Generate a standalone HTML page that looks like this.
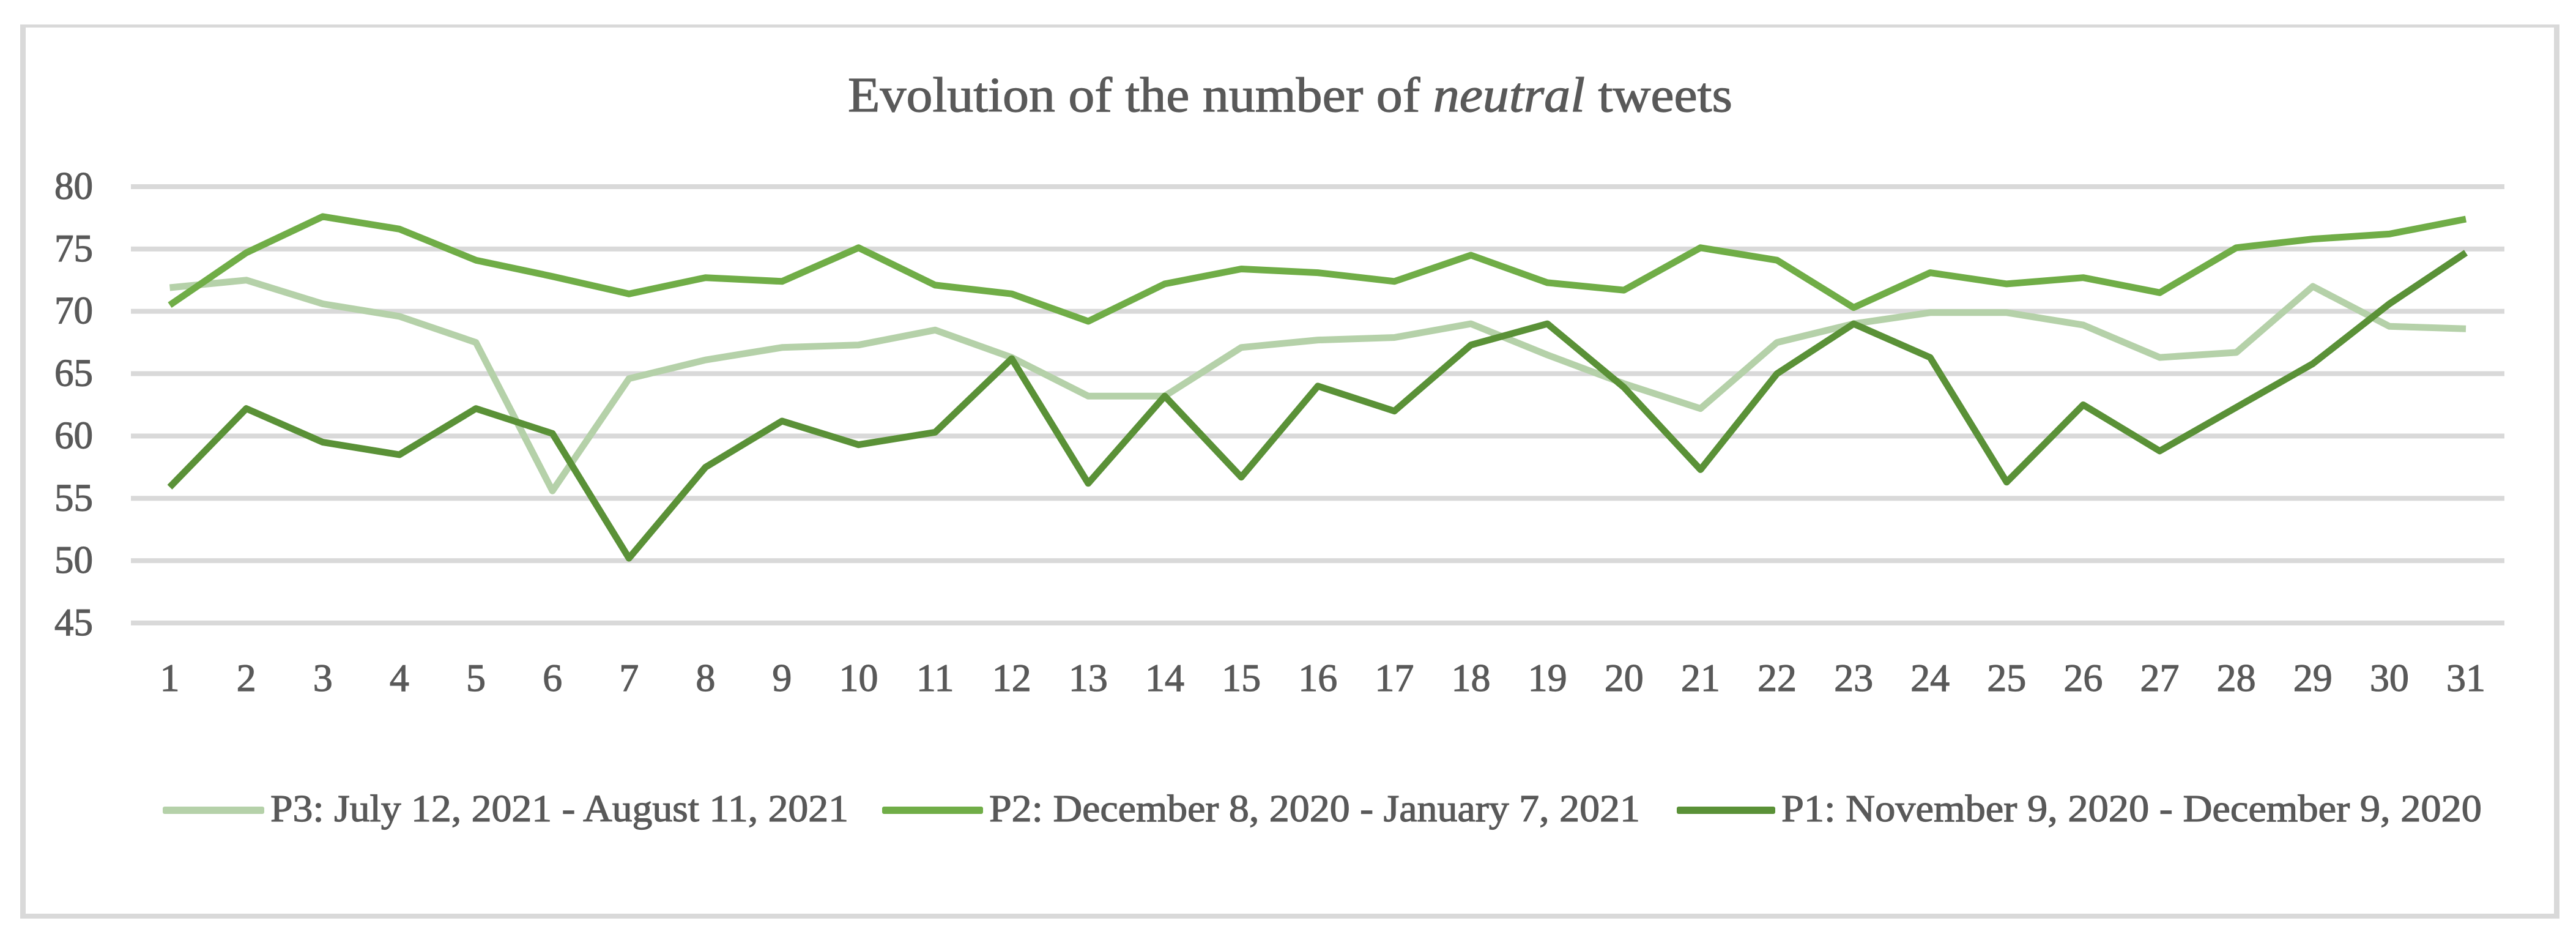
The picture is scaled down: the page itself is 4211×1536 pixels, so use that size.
<!DOCTYPE html>
<html lang="en">
<head>
<meta charset="utf-8">
<title>Evolution of the number of neutral tweets</title>
<style>
html,body{margin:0;padding:0;background:#fff;width:4211px;height:1536px;overflow:hidden}
svg{display:block}
text{font-family:"Liberation Serif",serif;fill:#595959;stroke:#595959;stroke-width:1.2px}
</style>
</head>
<body>
<svg id="chart" xmlns="http://www.w3.org/2000/svg" width="4211" height="1536" viewBox="0 0 4211 1536">
  <rect x="0" y="0" width="4211" height="1536" fill="#fff"/>
  <g fill="#d9d9d9">
    <rect x="33" y="40" width="4150" height="5"/>
    <rect x="33" y="1493" width="4150" height="8"/>
    <rect x="33" y="40" width="9" height="1461"/>
    <rect x="4175" y="40" width="9" height="1461"/>
  </g>
  <text x="1386" y="182" font-size="80" textLength="1446" lengthAdjust="spacingAndGlyphs">Evolution of the number of <tspan font-style="italic">neutral</tspan> tweets</text>
  <g id="grid"></g>
  <g id="yaxis"></g>
  <g id="xaxis"></g>
  <g id="series"></g>
  <g id="legend"></g>
</svg>
<script>
const categories = [1,2,3,4,5,6,7,8,9,10,11,12,13,14,15,16,17,18,19,20,21,22,23,24,25,26,27,28,29,30,31];
const yTicks = [80,75,70,65,60,55,50,45];
const p3Values = [71.9,72.5,70.6,69.6,67.5,55.6,64.6,66.1,67.1,67.3,68.5,66.3,63.2,63.2,67.1,67.7,67.9,69.0,66.5,64.2,62.2,67.5,69.0,69.9,69.9,68.9,66.3,66.7,72.0,68.8,68.6];
const p2Values = [70.5,74.7,77.6,76.6,74.1,72.8,71.4,72.7,72.4,75.1,72.1,71.4,69.2,72.2,73.4,73.1,72.4,74.5,72.3,71.7,75.1,74.1,70.3,73.1,72.2,72.7,71.5,75.1,75.8,76.2,77.4];
const p1Values = [55.9,62.2,59.5,58.5,62.2,60.2,50.2,57.5,61.2,59.3,60.3,66.2,56.2,63.2,56.7,64.0,62.0,67.3,69.0,63.9,57.3,65.0,69.0,66.3,56.3,62.5,58.8,62.3,65.8,70.6,74.7];
const p3Label = "P3: July 12, 2021 - August 11, 2021";
const p2Label = "P2: December 8, 2020 - January 7, 2021";
const p1Label = "P1: November 9, 2020 - December 9, 2020";

const NS = "http://www.w3.org/2000/svg";
function x(i){ return 277.5 + i * (4031 - 277.5) / (categories.length - 1); }
function y(v){ return 305 + (80 - v) * (1018 - 305) / 35; }
function make(tag, parent, attrs){
  const el = document.createElementNS(NS, tag);
  for (const k in attrs) el.setAttribute(k, attrs[k]);
  parent.appendChild(el);
  return el;
}

const grid = document.getElementById('grid');
const yaxis = document.getElementById('yaxis');
yTicks.forEach(function(t){
  const line = make('rect', grid, {x:214, y:y(t)-4, width:3880, height:8, fill:'#d9d9d9'});
  
  
  const label = make('text', yaxis, {x:152, y:y(t)+20, 'font-size':63, 'text-anchor':'end'});
  
  
  label.textContent = t;
});

const xaxis = document.getElementById('xaxis');
categories.forEach(function(c, i){
  const label = make('text', xaxis, {x:x(i), y:1129, 'font-size':64, 'text-anchor':'middle'});
  
  
  label.textContent = c;
});

const seriesGroup = document.getElementById('series');
function drawSeries(values, color, name){
  const pts = values.map(function(v, i){ return x(i).toFixed(1) + ',' + y(v).toFixed(1); }).join(' ');
  const line = make('polyline', seriesGroup, {points:pts, fill:'none', stroke:color, 'stroke-width':11, 'stroke-linejoin':'round', 'stroke-linecap':'butt'});
  
  
}
drawSeries(p3Values, '#b5d1a9', 'series-p3-line');
drawSeries(p2Values, '#70ad47', 'series-p2-line');
drawSeries(p1Values, '#5a9137', 'series-p1-line');

const legend = document.getElementById('legend');
function drawLegend(label, color, x0, x1, tx, tw, name){
  const swatch = make('rect', legend, {x:x0, y:1318, width:x1-x0, height:12, rx:3, fill:color});
  
  
  const text = make('text', legend, {x:tx, y:1342, 'font-size':62, textLength:tw, lengthAdjust:'spacingAndGlyphs'});
  
  
  text.textContent = label;
}
drawLegend(p3Label, '#b5d1a9', 266, 432, 442, 945, 'legend-p3');
drawLegend(p2Label, '#70ad47', 1442, 1607, 1617, 1064, 'legend-p2');
drawLegend(p1Label, '#5a9137', 2741, 2902, 2912, 1145, 'legend-p1');
</script>
</body>
</html>
